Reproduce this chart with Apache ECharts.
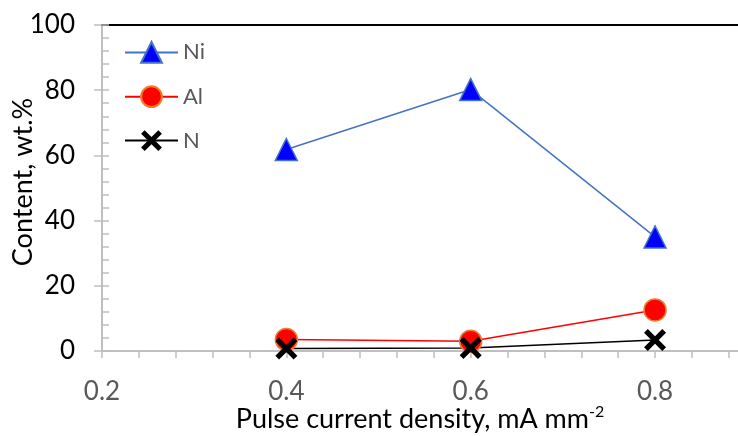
<!DOCTYPE html>
<html>
<head>
<meta charset="utf-8">
<script src="https://cdn.jsdelivr.net/npm/echarts@6/dist/echarts.min.js"></script>
<style>
  html, body { margin: 0; padding: 0; background: #fff; }
  #chart { width: 738px; height: 436px; }
</style>
</head>
<body>
<div id="chart"></div>
<script>
// data
var currentDensity = [0.4, 0.6, 0.8];
var niContent = [61.8, 80.2, 35.0];
var alContent = [3.5, 3.0, 12.6];
var nContent = [0.8, 0.9, 3.4];
var seriesNames = ['Ni', 'Al', 'N'];

var FONT = 'Lato';
var crossPath = 'path://M0,17 L17,0 L50,33 L83,0 L100,17 L67,50 L100,83 L83,100 L50,67 L17,100 L0,83 L33,50 Z';

function pairs(xs, ys) {
	return xs.map(function (x, i) { return [x, ys[i]]; });
}

var myChart = echarts.init(document.getElementById('chart'));
var option = {
	animation: false,
	backgroundColor: '#fff',
	textStyle: { fontFamily: FONT },
	grid: { left: 102, right: 0, top: 25, bottom: 85, containLabel: false, outerBoundsMode: 'none' },
	legend: {
		orient: 'vertical',
		left: 119,
		top: 36,
		itemWidth: 53,
		itemHeight: 26,
		itemGap: 21.5,
		textStyle: { color: '#595959', fontSize: 22, fontFamily: FONT },
		data: seriesNames
	},
	xAxis: [
		{
			type: 'value',
			min: 0.2,
			max: 0.89,
			interval: 0.04,
			name: 'Pulse current density, mA mm{sup|-2}',
			nameLocation: 'middle',
			nameGap: 53,
			nameMoveOverlap: false,
			nameTextStyle: {
				color: '#000', fontSize: 27, fontFamily: FONT,
				rich: { sup: { fontSize: 16, verticalAlign: 'top', color: '#000', padding: [0, 0, 14, 0] } }
			},
			axisLine: { show: true, onZero: false, lineStyle: { color: '#bfbfbf', width: 2 } },
			axisTick: { show: true, length: 7, lineStyle: { color: '#bfbfbf', width: 1.5 } },
			splitLine: { show: false },
			axisLabel: {
				margin: 28,
				color: '#595959',
				fontSize: 26,
				fontFamily: FONT,
				showMaxLabel: false,
				formatter: function (v) {
					var k = v * 5;
					return Math.abs(k - Math.round(k)) < 1e-6 ? v.toFixed(1) : '';
				}
			}
		},
		{
			// black line along the top
			type: 'value',
			position: 'top',
			min: 0.2,
			max: 0.89,
			axisLine: { show: true, onZero: false, lineStyle: { color: '#000', width: 2 } },
			axisTick: { show: false },
			axisLabel: { show: false },
			splitLine: { show: false }
		}
	],
	yAxis: [
		{
			type: 'value',
			min: 0,
			max: 100,
			interval: 20,
			name: 'Content, wt.%',
			nameLocation: 'middle',
			nameGap: 65,
			nameMoveOverlap: false,
			nameTextStyle: { color: '#000', fontSize: 27, fontFamily: FONT, padding: [0, 0, 0, 12] },
			axisLine: { show: true, lineStyle: { color: '#bfbfbf', width: 2 } },
			axisTick: { show: true, length: 8, lineStyle: { color: '#bfbfbf', width: 1.5 } },
			splitLine: { show: false },
			axisLabel: { margin: 27, color: '#000', fontSize: 26, fontFamily: FONT }
		},
		{
			// inside minor ticks
			type: 'value',
			position: 'left',
			offset: 0,
			min: 0,
			max: 100,
			interval: 4,
			axisLine: { show: false },
			axisTick: { show: true, inside: true, length: 7, lineStyle: { color: '#bfbfbf', width: 1.5 } },
			axisLabel: { show: false },
			splitLine: { show: false }
		}
	],
	series: [
		{
			name: 'Ni',
			type: 'line',
			data: pairs(currentDensity, niContent),
			symbol: 'triangle',
			symbolSize: 22,
			lineStyle: { color: '#4472c4', width: 1.5 },
			itemStyle: { color: '#0000ff', borderColor: '#4472c4', borderWidth: 1.5 }
		},
		{
			name: 'Al',
			type: 'line',
			data: pairs(currentDensity, alContent),
			symbol: 'circle',
			symbolSize: 22,
			lineStyle: { color: '#ff0000', width: 1.5 },
			itemStyle: { color: '#ff0000', borderColor: '#ed7d31', borderWidth: 1.5 }
		},
		{
			name: 'N',
			type: 'line',
			data: pairs(currentDensity, nContent),
			symbol: crossPath,
			symbolSize: 22,
			lineStyle: { color: '#000', width: 1.5 },
			itemStyle: { color: '#000' }
		}
	]
};
myChart.setOption(option);
</script>
</body>
</html>
